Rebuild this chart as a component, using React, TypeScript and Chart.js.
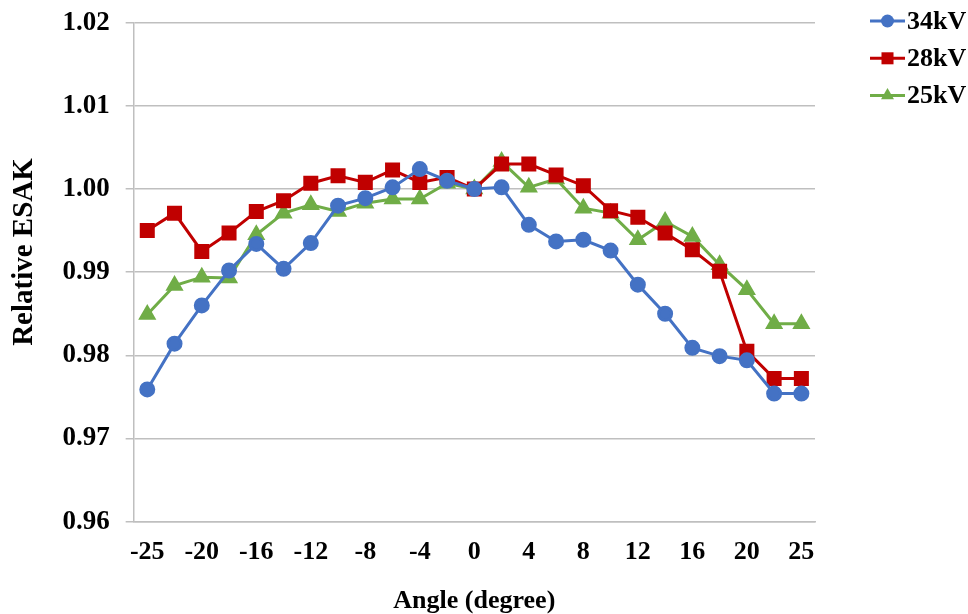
import React, { useEffect, useRef } from "react";
import { Chart, registerables } from "chart.js";

Chart.register(...registerables);

const angles = ["-25", "-22.5", "-20", "-18", "-16", "-14", "-12", "-10", "-8", "-6", "-4", "-2", "0", "2", "4", "6", "8", "10", "12", "14", "16", "18", "20", "22.5", "25"];
const shownTicks = ["-25", "-20", "-16", "-12", "-8", "-4", "0", "4", "8", "12", "16", "20", "25"];

const kv34 = [0.9759, 0.9814, 0.9860, 0.9902, 0.9934, 0.9904, 0.9935, 0.9980, 0.9989, 1.0002, 1.0024, 1.0010, 1.0000, 1.0002, 0.9957, 0.9937, 0.9939, 0.9926, 0.9885, 0.9850, 0.9809, 0.9799, 0.9794, 0.9754, 0.9754];
const kv28 = [0.9950, 0.9971, 0.9925, 0.9947, 0.9973, 0.9986, 1.0007, 1.0016, 1.0008, 1.0023, 1.0008, 1.0014, 1.0000, 1.0030, 1.0030, 1.0017, 1.0004, 0.9974, 0.9966, 0.9947, 0.9927, 0.9901, 0.9805, 0.9772, 0.9772];
const kv25 = [0.9849, 0.9884, 0.9894, 0.9893, 0.9945, 0.9971, 0.9981, 0.9973, 0.9983, 0.9988, 0.9988, 1.0007, 1.0000, 1.0033, 1.0002, 1.0012, 0.9977, 0.9971, 0.9939, 0.9961, 0.9943, 0.9909, 0.9879, 0.9838, 0.9838];

const seriesNames = ["34kV", "28kV", "25kV"];
const yTitle = "Relative ESAK";
const xTitle = "Angle (degree)";
const FONT = "'Liberation Serif', 'Times New Roman', serif";

const legendPlugin = {
  id: "lineMarkerLegend",
  afterDraw(chart: any) {
    const ctx = chart.ctx;
    ctx.save();
    chart.data.datasets.forEach((ds: any, i: number) => {
      const y = 21 + i * 37.3;
      const x0 = 870;
      const x1 = 905;
      const cx = (x0 + x1) / 2;
      ctx.strokeStyle = ds.borderColor;
      ctx.lineWidth = 3;
      ctx.beginPath();
      ctx.moveTo(x0, y);
      ctx.lineTo(x1, y);
      ctx.stroke();
      ctx.fillStyle = ds.backgroundColor;
      const r = ds.pointRadius;
      ctx.beginPath();
      if (ds.pointStyle === "circle") {
        ctx.arc(cx, y, r, 0, Math.PI * 2);
      } else if (ds.pointStyle === "rect") {
        const s = Math.SQRT1_2 * r;
        ctx.rect(cx - s, y - s, 2 * s, 2 * s);
      } else {
        ctx.moveTo(cx, y - r);
        ctx.lineTo(cx + r * Math.sqrt(3) / 2, y + r / 2);
        ctx.lineTo(cx - r * Math.sqrt(3) / 2, y + r / 2);
        ctx.closePath();
      }
      ctx.fill();
      ctx.fillStyle = "#000";
      ctx.font = `bold 26px ${FONT}`;
      ctx.textBaseline = "middle";
      ctx.textAlign = "left";
      ctx.fillText(ds.label, 907, y + 1);
    });
    ctx.restore();
  },
};

const yTitlePlugin = {
  id: "yTitleText",
  afterDraw(chart: any) {
    const ctx = chart.ctx;
    ctx.save();
    ctx.translate(25, 252);
    ctx.rotate(-Math.PI / 2);
    ctx.fillStyle = "#000";
    ctx.font = `bold 29px ${FONT}`;
    ctx.textAlign = "center";
    ctx.textBaseline = "middle";
    ctx.fillText(yTitle, 0, 0);
    ctx.restore();
  },
};

export default function App() {
  const ref = useRef<HTMLCanvasElement>(null);
  useEffect(() => {
    document.body.style.margin = "0";
    const chart = new Chart(ref.current!, {
      type: "line",
      data: {
        labels: angles,
        datasets: [
          { label: seriesNames[0], data: kv34, borderColor: "#4472C4", backgroundColor: "#4472C4", pointStyle: "circle", pointRadius: 6.5, borderWidth: 3, tension: 0 },
          { label: seriesNames[1], data: kv28, borderColor: "#C00000", backgroundColor: "#C00000", pointStyle: "rect", pointRadius: 8.5, borderWidth: 3, tension: 0 },
          { label: seriesNames[2], data: kv25, borderColor: "#70AD47", backgroundColor: "#70AD47", pointStyle: "triangle", pointRadius: 7.5, borderWidth: 3, tension: 0 },
        ],
      },
      options: {
        animation: false,
        responsive: true,
        maintainAspectRatio: false,
        layout: { padding: { top: 0, right: 153, left: 46.4, bottom: -3 } },
        plugins: { legend: { display: false }, tooltip: { enabled: false } },
        scales: {
          x: {
            offset: true,
            grid: { display: false },
            border: { display: true, color: "#BFBFBF", width: 1.5 },
            ticks: {
              autoSkip: false,
              maxRotation: 0,
              color: "#000",
              padding: 7,
              font: { family: FONT, size: 26, weight: "bold" },
              callback: (v: any, i: number) => (shownTicks.includes(angles[i]) ? angles[i] : ""),
            },
            title: { display: true, text: xTitle, color: "#000", font: { family: FONT, size: 26, weight: "bold" }, padding: { top: 11, bottom: 0 } },
          },
          y: {
            min: 0.96,
            max: 1.02,
            ticks: {
              stepSize: 0.01,
              color: "#000",
              padding: 16,
              font: { family: FONT, size: 27, weight: "bold", lineHeight: 0.5 },
              callback: (v: any) => Number(v).toFixed(2),
            },
            grid: { color: "#BFBFBF", lineWidth: 1.5, tickLength: 8 },
            border: { display: true, color: "#BFBFBF", width: 1.5 },
            title: { display: false },
          },
        },
      },
      plugins: [legendPlugin, yTitlePlugin],
    });
    return () => chart.destroy();
  }, []);
  return (
    <div style={{ position: "fixed", left: 0, top: 0, width: 968, height: 614, background: "#fff" }}>
      <canvas ref={ref} />
    </div>
  );
}
